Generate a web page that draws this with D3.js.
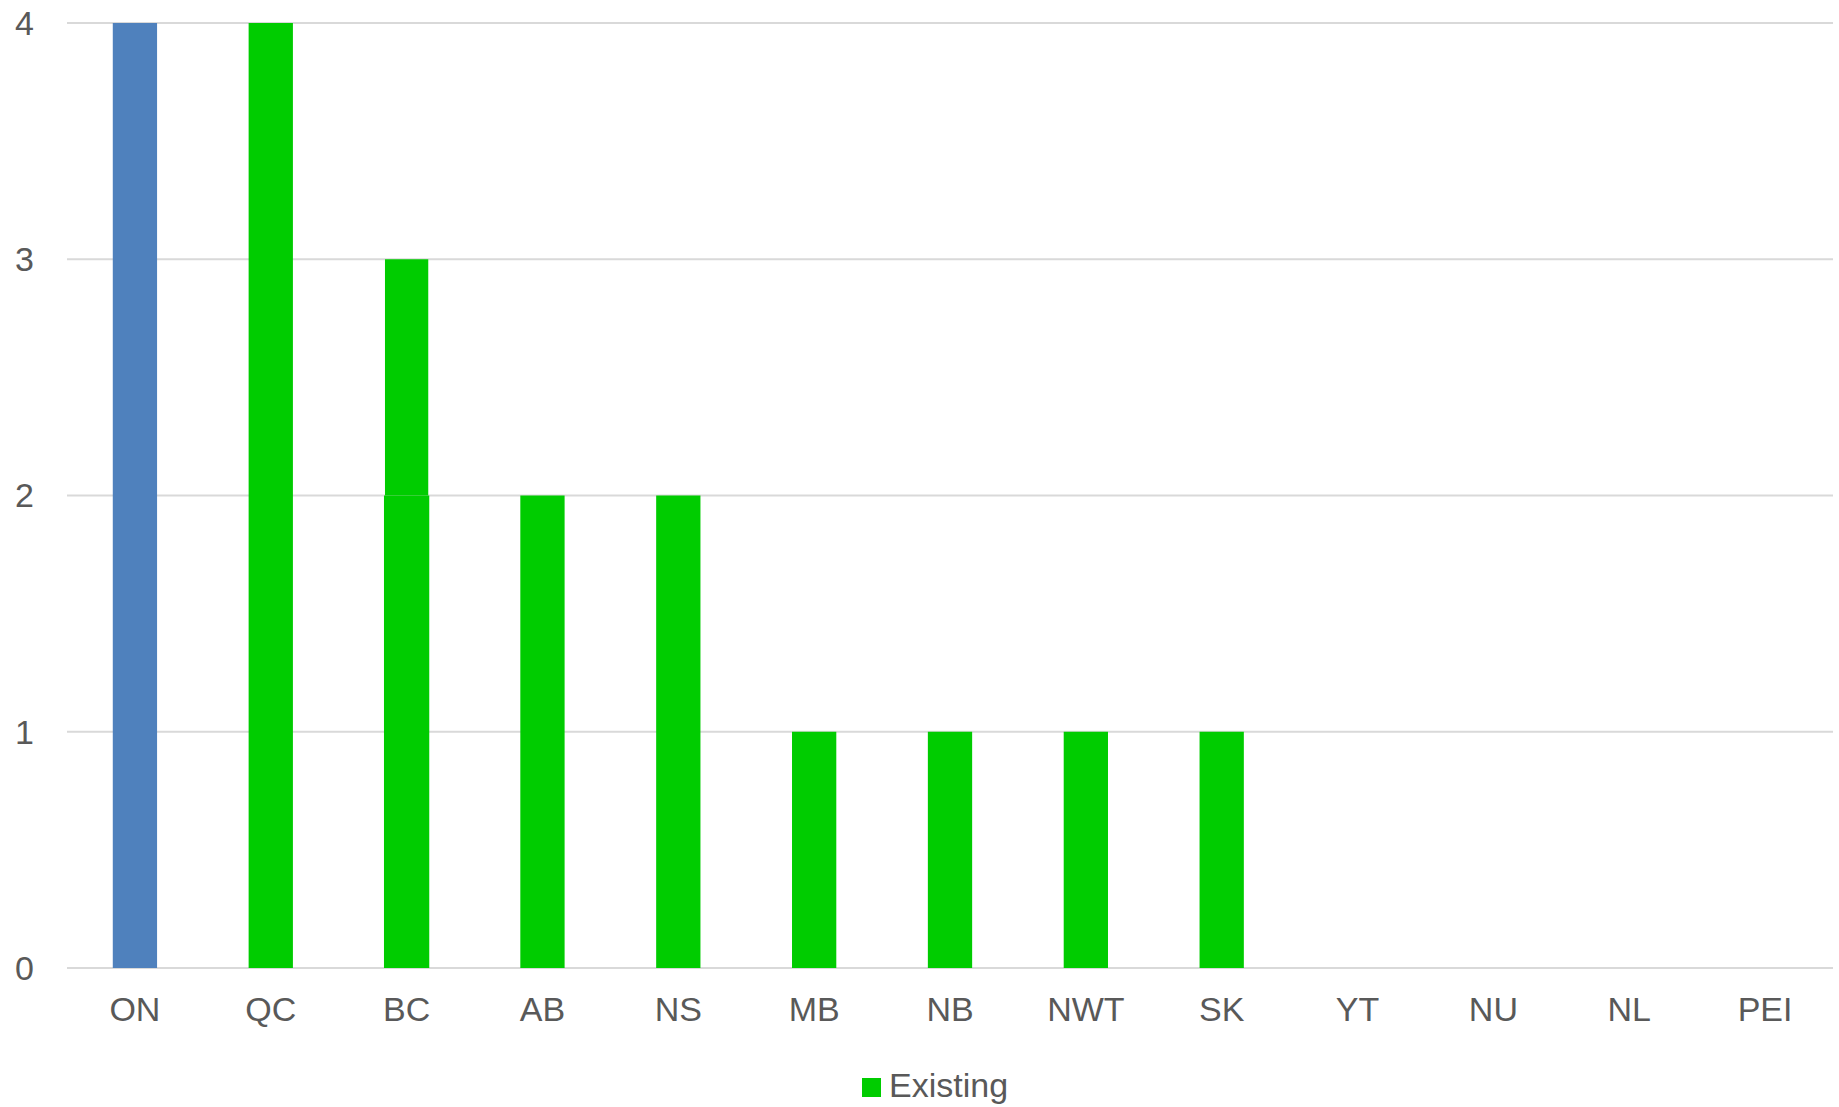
<!DOCTYPE html>
<html>
<head>
<meta charset="utf-8">
<script src="https://cdn.jsdelivr.net/npm/d3@7"></script>
<style>
  body { margin: 0; background: #fff; }
  text { font-family: "Liberation Sans", Arial, sans-serif; fill: #595959; }
</style>
</head>
<body>
<div id="chart"></div>
<script>
// chart data
const provinces = ["ON", "QC", "BC", "AB", "NS", "MB", "NB", "NWT", "SK", "YT", "NU", "NL", "PEI"];
const existing = [4, 4, 2, 2, 2, 1, 1, 1, 1, 0, 0, 0, 0];
const extra = [0, 0, 1, 0, 0, 0, 0, 0, 0, 0, 0, 0, 0];
const yTicks = [0, 1, 2, 3, 4];
const legendLabel = "Existing";

const width = 1839, height = 1107;
const margin = { top: 23, right: 6, bottom: 139, left: 67 };
const innerW = width - margin.left - margin.right;
const innerH = height - margin.top - margin.bottom;

const svg = d3.select("#chart")
    .append("svg")
    .attr("width", width)
    .attr("height", height);

const g = svg.append("g")
    .attr("transform", "translate(" + margin.left + "," + margin.top + ")");

const x = d3.scaleBand()
    .domain(provinces)
    .range([0, innerW])
    .paddingInner(0.674)
    .paddingOuter(0.337);

const y = d3.scaleLinear()
    .domain([0, 4])
    .range([innerH, 0]);

// gridlines
g.selectAll(".grid")
    .data(yTicks)
    .enter().append("line")
    .attr("x1", 0)
    .attr("x2", innerW)
    .attr("y1", d => y(d))
    .attr("y2", d => y(d))
    .attr("stroke", "#d9d9d9")
    .attr("stroke-width", 2);

// bars
const data = provinces.map((p, i) => ({ name: p, base: existing[i], top: extra[i] }));

g.selectAll(".bar")
    .data(data.filter(d => d.base > 0))
    .enter().append("rect")
    .attr("x", d => x(d.name) - (d.top > 0 ? 0.5 : 0))
    .attr("width", d => x.bandwidth() + (d.top > 0 ? 1 : 0))
    .attr("y", d => y(d.base))
    .attr("height", d => y(0) - y(d.base))
    .attr("fill", d => d.name === "ON" ? "#4f81bd" : "#00cc00");

g.selectAll(".bar-top")
    .data(data.filter(d => d.top > 0))
    .enter().append("rect")
    .attr("x", d => x(d.name) + 0.5)
    .attr("width", x.bandwidth() - 1)
    .attr("y", d => y(d.base + d.top))
    .attr("height", d => y(d.base) - y(d.base + d.top))
    .attr("fill", "#00cc00");

// y axis labels
g.selectAll(".ylab")
    .data(yTicks)
    .enter().append("text")
    .attr("x", -33)
    .attr("y", d => y(d))
    .attr("dy", "0.35em")
    .attr("text-anchor", "end")
    .style("font-size", "34px")
    .text(d => d);

// x axis labels
g.selectAll(".xlab")
    .data(provinces)
    .enter().append("text")
    .attr("x", d => x(d) + x.bandwidth() / 2)
    .attr("y", innerH + 53)
    .attr("text-anchor", "middle")
    .style("font-size", "34px")
    .text(d => d);

// legend
const legend = svg.append("g").attr("transform", "translate(862,1078)");
legend.append("rect")
    .attr("width", 19)
    .attr("height", 19)
    .attr("fill", "#00cc00");
legend.append("text")
    .attr("x", 27)
    .attr("y", 19)
    .style("font-size", "34px")
    .text(legendLabel);
</script>
</body>
</html>
